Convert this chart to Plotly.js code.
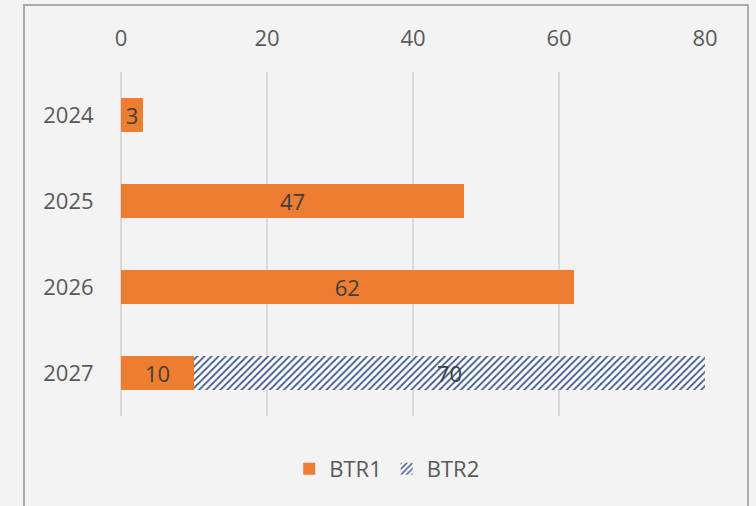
<!DOCTYPE html>
<html>
<head>
<meta charset="utf-8">
<script src="https://cdn.plot.ly/plotly-3.0.1.min.js"></script>
<style>
html,body{margin:0;padding:0;background:#f3f3f3;}
#chart{width:756px;height:506px;}
</style>
</head>
<body>
<div id="chart"></div>
<script>
const years = ['2024', '2025', '2026', '2027'];
const btr1 = [3, 47, 62, 10];
const btr2 = [null, null, null, 70];
const xTicks = [0, 20, 40, 60, 80];

const labelFont = {family: 'Open Sans, sans-serif', size: 22, color: '#404040'};

const traces = [
  {
    type: 'bar', orientation: 'h', name: 'BTR1',
    y: years, x: btr1,
    text: btr1.map(v => v == null ? '' : String(v)),
    textposition: 'inside', insidetextanchor: 'middle', constraintext: 'none', textangle: 0,
    textfont: labelFont,
    marker: {color: '#ED7D31'},
    hoverinfo: 'skip'
  },
  {
    type: 'bar', orientation: 'h', name: 'BTR2',
    y: years, x: btr2,
    text: btr2.map(v => v == null ? '' : String(v)),
    textposition: 'inside', insidetextanchor: 'middle', constraintext: 'none', textangle: 0,
    textfont: labelFont,
    marker: {color: '#ffffff', pattern: {shape: '/', fgcolor: '#4a6290', bgcolor: '#ffffff', size: 5, solidity: 0.4}},
    hoverinfo: 'skip'
  }
];

const layout = {
  width: 756, height: 506,
  paper_bgcolor: '#f3f3f3', plot_bgcolor: 'rgba(0,0,0,0)',
  margin: {l: 121, r: 51, t: 72, b: 90, pad: 0},
  barmode: 'stack', bargap: 0.6,
  font: {family: 'Open Sans, sans-serif', size: 22, color: '#595959'},
  xaxis: {
    side: 'top', range: [0, 80], tickvals: xTicks, ticktext: xTicks.map(String),
    showgrid: true, gridcolor: '#d9d9d9', gridwidth: 1.5,
    zeroline: true, zerolinecolor: '#d9d9d9', zerolinewidth: 1.5, showline: false,
    ticks: 'outside', ticklen: 16, tickcolor: 'rgba(0,0,0,0)',
    tickfont: {size: 22, color: '#595959'}
  },
  yaxis: {
    autorange: 'reversed', type: 'category',
    showgrid: false, zeroline: false, showline: false,
    ticks: 'outside', ticklen: 22, tickcolor: 'rgba(0,0,0,0)',
    tickfont: {size: 22, color: '#595959'}
  },
  showlegend: true,
  legend: {orientation: 'h', x: 0.455, xanchor: 'center', y: -0.154, yanchor: 'middle',
           font: {size: 22, color: '#595959'}, bgcolor: 'rgba(0,0,0,0)', traceorder: 'normal',
           itemwidth: 30},
  shapes: [{
    type: 'rect', xref: 'paper', yref: 'paper',
    x0: -97/584, x1: 627/584, y0: -1, y1: 1 + 67/344,
    line: {color: '#ababab', width: 2}, fillcolor: 'rgba(0,0,0,0)', layer: 'below'
  }]
};

Plotly.newPlot('chart', traces, layout, {displayModeBar: false, staticPlot: true});
</script>
</body>
</html>
